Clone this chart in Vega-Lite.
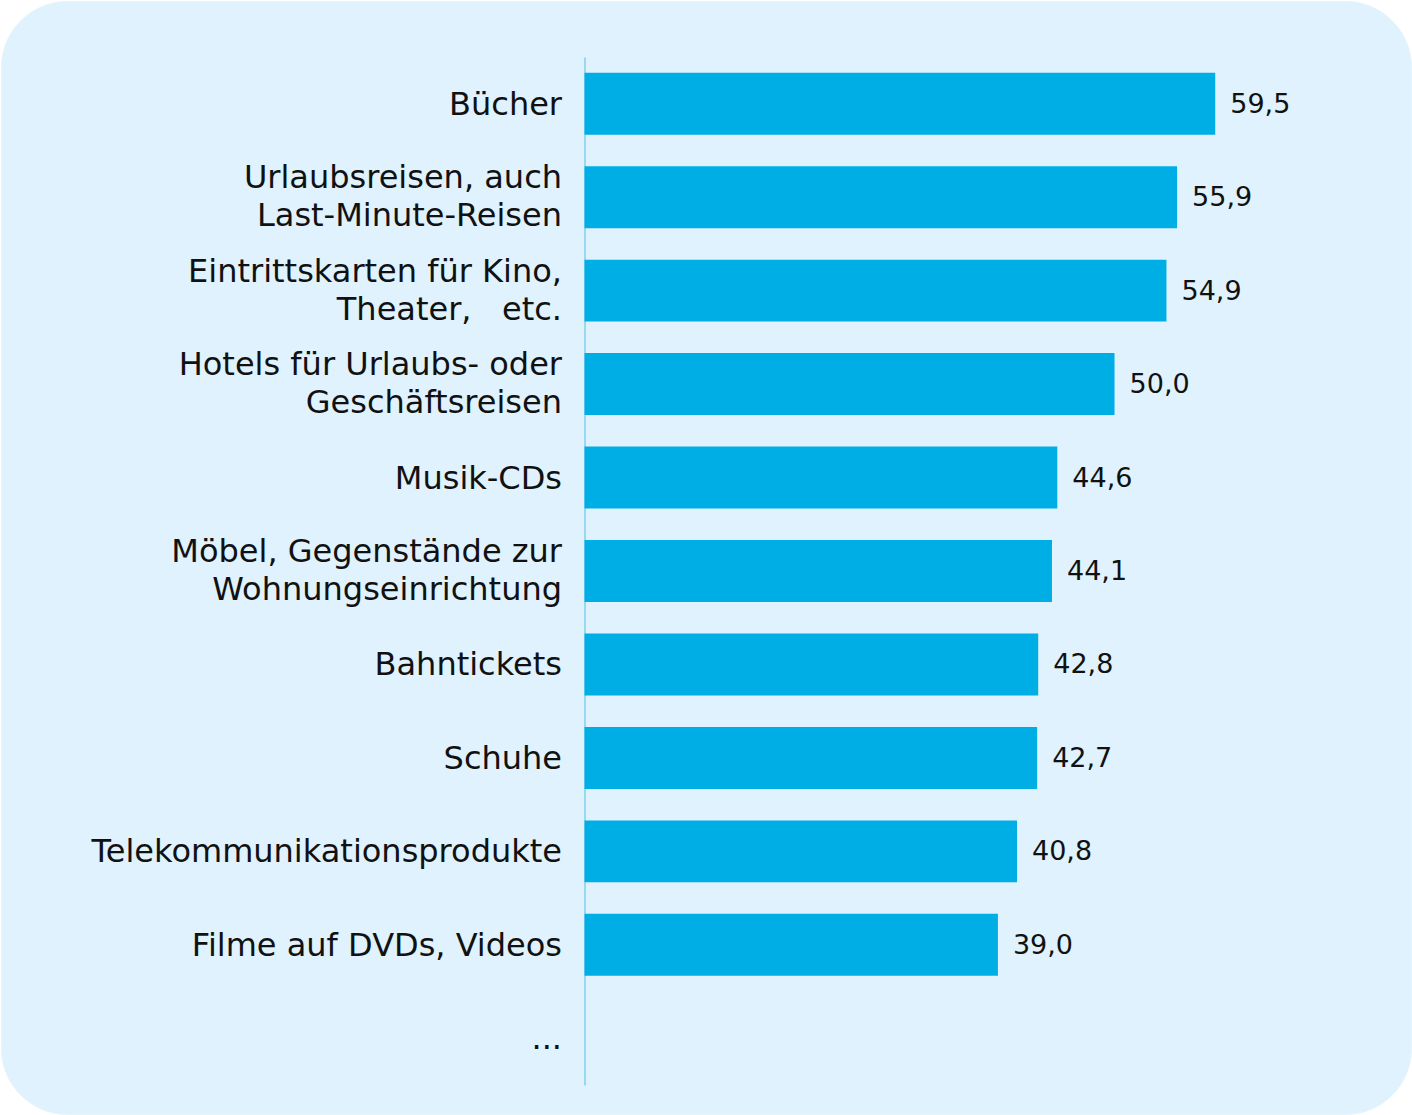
{
  "$schema": "https://vega.github.io/schema/vega-lite/v6.json",
  "width": 1410,
  "height": 1113,
  "autosize": {"type": "none"},
  "padding": {"left": 1, "top": 1, "right": 1, "bottom": 1},
  "background": "#ffffff",
  "config": {
    "view": {"fill": "#dff2fd", "cornerRadius": 66, "stroke": "#e6f4fc", "strokeWidth": 1},
    "locale": {"number": {"decimal": ",", "thousands": ".", "grouping": [3], "currency": ["", " €"]}}
  },
  "data": {
    "values": [
      {"kategorie": "Bücher", "wert": 59.5},
      {"kategorie": "Urlaubsreisen, auch|Last-Minute-Reisen", "wert": 55.9},
      {"kategorie": "Eintrittskarten für Kino,|Theater, \u00a0 etc.", "wert": 54.9},
      {"kategorie": "Hotels für Urlaubs- oder|Geschäftsreisen", "wert": 50.0},
      {"kategorie": "Musik-CDs", "wert": 44.6},
      {"kategorie": "Möbel, Gegenstände zur|Wohnungseinrichtung", "wert": 44.1},
      {"kategorie": "Bahntickets", "wert": 42.8},
      {"kategorie": "Schuhe", "wert": 42.7},
      {"kategorie": "Telekommunikationsprodukte", "wert": 40.8},
      {"kategorie": "Filme auf DVDs, Videos", "wert": 39.0},
      {"kategorie": "...", "wert": null}
    ]
  },
  "encoding": {
    "y": {
      "field": "kategorie",
      "type": "nominal",
      "sort": null,
      "scale": {
        "domain": [
          "Bücher",
          "Urlaubsreisen, auch|Last-Minute-Reisen",
          "Eintrittskarten für Kino,|Theater, \u00a0 etc.",
          "Hotels für Urlaubs- oder|Geschäftsreisen",
          "Musik-CDs",
          "Möbel, Gegenstände zur|Wohnungseinrichtung",
          "Bahntickets",
          "Schuhe",
          "Telekommunikationsprodukte",
          "Filme auf DVDs, Videos",
          "..."
        ],
        "range": [56, 1084],
        "paddingInner": 0.337,
        "paddingOuter": 0.1685
      },
      "axis": {
        "title": null,
        "offset": -583.5,
        "ticks": false,
        "grid": false,
        "domain": true,
        "domainColor": "#7fd0ef",
        "domainWidth": 1.5,
        "labelExpr": "split(datum.label, '|')",
        "labelFont": "DejaVu Sans",
        "labelFontSize": 32,
        "labelColor": "#111111",
        "labelLineHeight": 38,
        "labelPadding": 23,
        "labelLimit": 700,
        "labelAlign": "right",
        "labelBaseline": "middle",
        "labelOffset": {"condition": {"test": "indexof(datum.value, '|') >= 0", "value": -19}, "value": 1}
      }
    }
  },
  "layer": [
    {
      "mark": {"type": "bar", "color": "#00aee6", "cornerRadius": 0},
      "encoding": {
        "x": {
          "field": "wert",
          "type": "quantitative",
          "scale": {"domain": [-55.05, 77.97], "nice": false, "zero": false},
          "axis": null
        },
        "x2": {"datum": 0}
      }
    },
    {
      "mark": {"type": "text", "align": "left", "baseline": "middle", "dx": 15, "dy": 1, "font": "DejaVu Sans", "fontSize": 27, "color": "#111111"},
      "encoding": {
        "x": {"field": "wert", "type": "quantitative"},
        "text": {"field": "wert", "type": "quantitative", "format": ".1f"}
      }
    }
  ]
}
